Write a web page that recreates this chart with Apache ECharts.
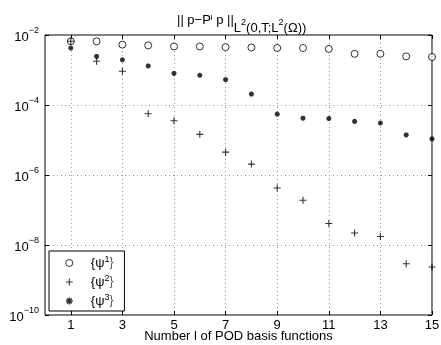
<!DOCTYPE html>
<html>
<head>
<meta charset="utf-8">
<script src="https://cdn.jsdelivr.net/npm/echarts@6/dist/echarts.min.js"></script>
<style>
  html, body { margin: 0; padding: 0; background: #fff; }
  #chart { width: 441px; height: 345px; }
</style>
</head>
<body>
<div id="chart"></div>
<script>
// x categories 0..15, only odd ones are labelled
const basisCategories = ['0','1','2','3','4','5','6','7','8','9','10','11','12','13','14','15'];
const basisNumbers = [1,2,3,4,5,6,7,8,9,10,11,12,13,14,15];

// error values
const psi1 = [6.6e-3, 6.6e-3, 5.3e-3, 5.05e-3, 4.7e-3, 4.7e-3, 4.5e-3, 4.4e-3, 4.25e-3, 4.25e-3, 4.0e-3, 2.9e-3, 2.9e-3, 2.45e-3, 2.35e-3];
const psi2 = [6.6e-3, 1.78e-3, 9.2e-4, 5.6e-5, 3.55e-5, 1.45e-5, 4.5e-6, 2.05e-6, 4.25e-7, 1.9e-7, 4.1e-8, 2.2e-8, 1.75e-8, 2.9e-9, 2.35e-9];
const psi3 = [4.25e-3, 2.45e-3, 1.97e-3, 1.31e-3, 8.0e-4, 7.1e-4, 5.3e-4, 2.05e-4, 5.5e-5, 4.2e-5, 4.1e-5, 3.4e-5, 3.05e-5, 1.4e-5, 1.08e-5];

const legendLabels = { psi1: '1', psi2: '2', psi3: '3' };

const font = "'Liberation Sans', Arial, sans-serif";
const oddOnly = (index) => index % 2 === 1;

const plusPath = 'path://M0,5L10,5M5,0L5,10';
const starPath = 'path://M0,5L10,5M5,0L5,10M1.5,1.5L8.5,8.5M1.5,8.5L8.5,1.5';

const circleStyle = { color: '#fff', borderColor: '#000', borderWidth: 1 };
const plusStyle = { color: 'transparent', borderColor: '#000', borderWidth: 1.1 };
const starStyle = { color: '#000', borderColor: '#000', borderWidth: 1.6 };

const toPoints = (values) => basisNumbers.map((n, i) => [n, values[i]]);

const myChart = echarts.init(document.getElementById('chart'));

const option = {
  animation: false,
  textStyle: { fontFamily: font, color: '#000' },
  title: {
    text: '{n||| p\u2212P}{sp|l}{n| p ||}{sb|L}{sbs|2}{sb|(0,T;L}{sbs|2}{sb|(\u03A9))}',
    left: 172,
    top: 1,
    textStyle: {
      fontFamily: font,
      fontWeight: 'normal',
      rich: {
        n: { fontSize: 13, fontFamily: font, color: '#000' },
        sp: { fontSize: 8, fontFamily: font, color: '#000', padding: [0, 0, 5, 0] },
        sb: { fontSize: 13, fontFamily: font, color: '#000', padding: [16, 0, 0, 0] },
        sbs: { fontSize: 9, fontFamily: font, color: '#000', padding: [4, 0, 0, 0] }
      }
    }
  },
  legend: {
    orient: 'vertical',
    left: 49,
    top: 251,
    padding: [4, 11, 2, 16],
    itemWidth: 7,
    itemHeight: 7,
    itemGap: 3,
    backgroundColor: '#fff',
    borderColor: '#000',
    borderWidth: 1,
    borderRadius: 0,
    data: [
      { name: 'psi1', icon: 'circle', itemStyle: circleStyle },
      { name: 'psi2', icon: plusPath, itemStyle: plusStyle },
      { name: 'psi3', icon: starPath, itemStyle: starStyle }
    ],
    formatter: (name) => '{t0|{\u03C8}{s|' + legendLabels[name] + '}{t|}}',
    textStyle: {
      rich: {
        t0: { fontSize: 13, fontFamily: font, color: '#000', lineHeight: 18, padding: [0, 0, 0, 13] },
        t: { fontSize: 13, fontFamily: font, color: '#000', lineHeight: 18 },
        s: { fontSize: 9, fontFamily: font, color: '#000', lineHeight: 18, padding: [0, 0, 7, 0] }
      }
    }
  },
  grid: {
    left: 45,
    right: 9,
    top: 35,
    bottom: 30,
    outerBoundsMode: 'none',
    show: true,
    borderColor: '#000',
    borderWidth: 1,
    backgroundColor: '#fff'
  },
  xAxis: [
    {
      type: 'category',
      data: basisCategories,
      boundaryGap: false,
      name: 'Number l of POD basis functions',
      nameLocation: 'middle',
      nameGap: 15,
      nameMoveOverlap: false,
      nameTextStyle: { fontSize: 13, fontFamily: font, color: '#000' },
      axisLine: { show: false },
      axisTick: { show: true, inside: true, length: 4, interval: oddOnly, lineStyle: { color: '#000' } },
      axisLabel: { interval: oddOnly, fontSize: 13, fontFamily: font, color: '#000', margin: 4 },
      splitLine: { show: true, interval: oddOnly, lineStyle: { color: '#999', type: [1, 3], width: 1 } }
    },
    {
      type: 'category',
      data: basisCategories,
      boundaryGap: false,
      position: 'top',
      axisLine: { show: false },
      axisTick: { show: true, inside: true, length: 4, interval: oddOnly, lineStyle: { color: '#000' } },
      axisLabel: { show: false },
      splitLine: { show: false }
    }
  ],
  yAxis: [
    {
      type: 'log',
      logBase: 10,
      min: 1e-10,
      max: 1e-2,
      interval: 2,
      axisLine: { show: false },
      axisTick: { show: true, inside: true, length: 4, lineStyle: { color: '#000' } },
      axisLabel: {
        margin: 6,
        formatter: (v) => '{b|10}{e|\u2212' + (-Math.round(Math.log10(v))) + '}',
        rich: {
          b: { fontSize: 13, fontFamily: font, color: '#000', padding: [4, 0, 0, 0] },
          e: { fontSize: 9, fontFamily: font, color: '#000', padding: [0, 0, 8, 0] }
        }
      },
      splitLine: { show: true, lineStyle: { color: '#999', type: [1, 3], width: 1 } },
      minorTick: { show: false }
    },
    {
      type: 'log',
      logBase: 10,
      min: 1e-10,
      max: 1e-2,
      interval: 2,
      position: 'right',
      axisLine: { show: false },
      axisTick: { show: true, inside: true, length: 4, lineStyle: { color: '#000' } },
      axisLabel: { show: false },
      splitLine: { show: false }
    }
  ],
  series: [
    {
      name: 'psi1',
      type: 'scatter',
      symbol: 'circle',
      symbolSize: 7,
      itemStyle: circleStyle,
      z: 3,
      data: toPoints(psi1)
    },
    {
      name: 'psi2',
      type: 'scatter',
      symbol: plusPath,
      symbolSize: 7,
      itemStyle: plusStyle,
      z: 4,
      data: toPoints(psi2)
    },
    {
      name: 'psi3',
      type: 'scatter',
      symbol: starPath,
      symbolSize: 5,
      itemStyle: starStyle,
      z: 2,
      data: toPoints(psi3)
    }
  ]
};

myChart.setOption(option);
</script>
</body>
</html>
